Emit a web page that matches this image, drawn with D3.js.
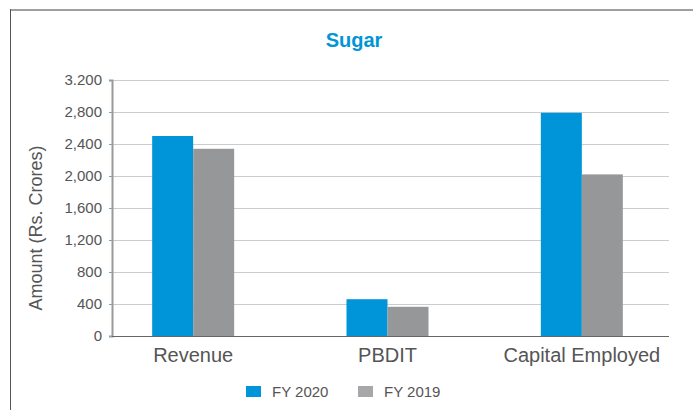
<!DOCTYPE html>
<html>
<head>
<meta charset="utf-8">
<script src="https://cdn.jsdelivr.net/npm/d3@7"></script>
<style>
  body { margin: 0; background: #fff; }
  text { font-family: "Liberation Sans", Arial, sans-serif; }
</style>
</head>
<body>
<script>
// Chart data
const categories = ['Revenue', 'PBDIT', 'Capital Employed'];
const seriesNames = ['FY 2020', 'FY 2019'];
const fy2020 = [2500, 460, 2790];
const fy2019 = [2340, 365, 2020];
const tickValues = [0, 400, 800, 1200, 1600, 2000, 2400, 2800, 3200];
const tickLabels = ['0', '400', '800', '1,200', '1,600', '2,000', '2,400', '2,800', '3.200'];

const colors = { 'FY 2020': '#0095d9', 'FY 2019': '#969799' };
const legendColors = { 'FY 2020': '#0095d9', 'FY 2019': '#a7a7aa' };

const W = 693, H = 410;
const plotLeft = 112, plotRight = 669, plotTop = 80, plotBottom = 336;

const svg = d3.select('body').append('svg')
    .attr('width', W)
    .attr('height', H);

// frame
svg.append('line')
    .attr('x1', 10).attr('x2', W).attr('y1', 10).attr('y2', 10)
    .attr('stroke', '#a0a0a0').attr('stroke-width', 2);
svg.append('line')
    .attr('x1', 10.5).attr('x2', 10.5).attr('y1', 9).attr('y2', H)
    .attr('stroke', '#555').attr('stroke-width', 1);

// title
svg.append('text')
    .attr('x', 354).attr('y', 47)
    .attr('text-anchor', 'middle')
    .attr('font-size', 20).attr('font-weight', 'bold')
    .attr('fill', '#0096d6')
    .text('Sugar');

// scales
const y = d3.scaleLinear().domain([0, 3200]).range([plotBottom, plotTop]);

const x0 = d3.scaleBand()
    .domain(categories)
    .range([96, 679])
    .padding(0);

const x1 = d3.scaleBand()
    .domain(seriesNames)
    .range([x0.bandwidth() / 2 - 41, x0.bandwidth() / 2 + 41]);

// gridlines
svg.append('g')
    .selectAll('line')
    .data(tickValues.slice(1))
    .enter().append('line')
    .attr('x1', plotLeft).attr('x2', plotRight)
    .attr('y1', d => Math.round(y(d)) + 0.5)
    .attr('y2', d => Math.round(y(d)) + 0.5)
    .attr('stroke', '#cccccc');

// y axis
const yAxis = svg.append('g')
    .attr('transform', `translate(${plotLeft},0)`)
    .call(d3.axisLeft(y)
        .tickValues(tickValues)
        .tickFormat((d, i) => tickLabels[i])
        .tickSize(3)
        .tickPadding(7));
yAxis.select('.domain').attr('stroke', '#999').attr('stroke-width', 2);
yAxis.selectAll('.tick line').attr('stroke', '#999');
yAxis.selectAll('.tick text')
    .attr('font-size', 15)
    .attr('fill', '#555')
    .style('font-family', '"Liberation Sans", Arial, sans-serif');

// bars
const rows = categories.map((c, i) => ({ cat: c, values: [fy2020[i], fy2019[i]] }));

const group = svg.selectAll('.group')
    .data(rows)
    .enter().append('g')
    .attr('class', 'group')
    .attr('transform', d => `translate(${x0(d.cat)},0)`);

group.selectAll('rect')
    .data(d => seriesNames.map((s, j) => ({ key: s, value: d.values[j] })))
    .enter().append('rect')
    .attr('x', d => x1(d.key))
    .attr('y', d => y(d.value))
    .attr('width', x1.bandwidth())
    .attr('height', d => plotBottom - y(d.value))
    .attr('fill', d => colors[d.key]);

// x axis line
svg.append('line')
    .attr('x1', plotLeft).attr('x2', plotRight)
    .attr('y1', plotBottom + 0.5).attr('y2', plotBottom + 0.5)
    .attr('stroke', '#666');

// category labels
svg.selectAll('.cat-label')
    .data(categories)
    .enter().append('text')
    .attr('class', 'cat-label')
    .attr('x', d => x0(d) + x0.bandwidth() / 2)
    .attr('y', 362)
    .attr('text-anchor', 'middle')
    .attr('font-size', 20)
    .attr('fill', '#555')
    .text(d => d);

// y axis title
svg.append('text')
    .attr('transform', 'translate(42,228) rotate(-90)')
    .attr('text-anchor', 'middle')
    .attr('font-size', 18)
    .attr('fill', '#555')
    .text('Amount (Rs. Crores)');

// legend
const legend = svg.selectAll('.legend')
    .data(seriesNames)
    .enter().append('g')
    .attr('class', 'legend')
    .attr('transform', (d, i) => `translate(${246 + i * 112},386)`);

legend.append('rect')
    .attr('width', 15).attr('height', 11)
    .attr('fill', d => legendColors[d]);

legend.append('text')
    .attr('x', 26).attr('y', 11)
    .attr('font-size', 15)
    .attr('fill', '#555')
    .text(d => d);
</script>
</body>
</html>
